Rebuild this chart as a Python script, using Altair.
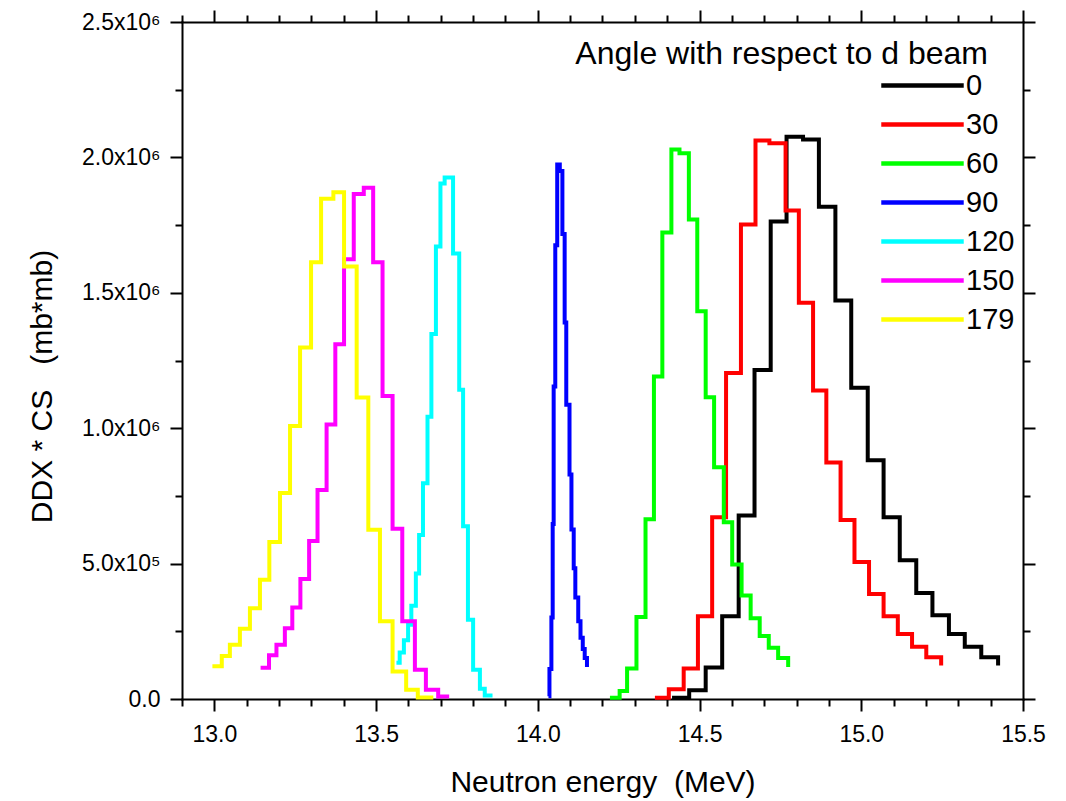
import altair as alt
import pandas as pd

FONT = "Liberation Sans"

angles = ["0", "30", "60", "90", "120", "150", "179"]
colors = ["#000000", "#ff0000", "#00ff00", "#0000ff", "#00ffff", "#ff00ff", "#ffff00"]

# bin edges (MeV) and step values (mb*mb)
E0 = [14.415, 14.468, 14.519, 14.570, 14.621, 14.670, 14.720, 14.769, 14.820, 14.869, 14.920,
      14.969, 15.020, 15.069, 15.119, 15.170, 15.220, 15.271, 15.320, 15.371, 15.423]
V0 = [5e3, 32e3, 116e3, 306e3, 678e3, 1215e3, 1763e3, 2076e3, 2066e3, 1818e3, 1472e3,
      1149e3, 882e3, 671e3, 512e3, 391e3, 309e3, 240e3, 193e3, 154e3, 124e3]

E30 = [14.362, 14.405, 14.451, 14.495, 14.539, 14.582, 14.628, 14.673, 14.716, 14.766, 14.807,
       14.851, 14.892, 14.936, 14.979, 15.024, 15.069, 15.113, 15.157, 15.201, 15.247]
V30 = [5e3, 36e3, 113e3, 306e3, 671e3, 1204e3, 1752e3, 2062e3, 2052e3, 1804e3, 1463e3,
       1139e3, 873e3, 661e3, 506e3, 388e3, 306e3, 240e3, 193e3, 154e3, 124e3]

E60 = [14.223, 14.253, 14.276, 14.305, 14.333, 14.359, 14.385, 14.413, 14.438, 14.467, 14.493,
       14.519, 14.545, 14.575, 14.601, 14.630, 14.658, 14.686, 14.714, 14.743, 14.774]
V60 = [5e3, 30e3, 113e3, 303e3, 664e3, 1191e3, 1723e3, 2029e3, 2015e3, 1771e3, 1432e3,
       1114e3, 856e3, 653e3, 497e3, 382e3, 298e3, 233e3, 189e3, 151e3, 118e3]

E90 = [14.033, 14.036, 14.042, 14.046, 14.049, 14.054, 14.060, 14.068, 14.076, 14.083,
       14.088, 14.098, 14.104, 14.111, 14.116, 14.125, 14.132, 14.139, 14.145, 14.152]
V90 = [10e3, 111e3, 301e3, 646e3, 1154e3, 1676e3, 1974e3, 1950e3, 1717e3, 1390e3,
       1087e3, 829e3, 626e3, 483e3, 375e3, 287e3, 226e3, 185e3, 151e3, 118e3]

E120 = [13.563, 13.573, 13.586, 13.599, 13.609, 13.623, 13.633, 13.645, 13.659, 13.671, 13.685,
        13.699, 13.712, 13.738, 13.757, 13.769, 13.784, 13.800, 13.821, 13.836, 13.860]
V120 = [134e3, 172e3, 217e3, 274e3, 344e3, 463e3, 606e3, 797e3, 1042e3, 1348e3, 1671e3,
        1904e3, 1926e3, 1645e3, 1142e3, 638e3, 293e3, 108e3, 38e3, 13e3, 13e3]

E150 = [13.143, 13.169, 13.192, 13.218, 13.241, 13.266, 13.293, 13.319, 13.347, 13.374, 13.401,
        13.431, 13.462, 13.491, 13.520, 13.551, 13.581, 13.620, 13.654, 13.692, 13.726]
V150 = [115e3, 162e3, 200e3, 261e3, 338e3, 443e3, 583e3, 772e3, 1014e3, 1310e3, 1624e3,
        1865e3, 1888e3, 1613e3, 1119e3, 629e3, 287e3, 108e3, 34e3, 9e3, 9e3]

E179 = [12.994, 13.023, 13.048, 13.079, 13.110, 13.141, 13.170, 13.203, 13.234, 13.265, 13.299,
        13.330, 13.368, 13.401, 13.440, 13.476, 13.512, 13.551, 13.593, 13.629, 13.677]
V179 = [121e3, 159e3, 200e3, 259e3, 335e3, 440e3, 580e3, 761e3, 1008e3, 1298e3, 1613e3,
        1847e3, 1871e3, 1597e3, 1113e3, 625e3, 287e3, 102e3, 34e3, 6e3, 6e3]

x_ticks = [round(12.9 + 0.1 * i, 1) for i in range(27)]
y_ticks = [250000 * i for i in range(11)]

legend_title = "Angle with respect to d beam"
x_title = "Neutron energy \u00a0(MeV)"
y_title = "DDX * CS \u00a0\u00a0(mb*mb)"

rows = []
for a, E, V in zip(angles, [E0, E30, E60, E90, E120, E150, E179],
                   [V0, V30, V60, V90, V120, V150, V179]):
    for e, v in zip(E, V):
        rows.append({"angle": a, "E": e, "v": v})
df = pd.DataFrame(rows)

xmaj = "abs(datum.value*2 - round(datum.value*2)) < 0.01"
ymaj = "abs(datum.value/500000 - round(datum.value/500000)) < 0.001"
x_tick_size = {"condition": {"test": xmaj, "value": 12}, "value": 7}
y_tick_size = {"condition": {"test": ymaj, "value": 12}, "value": 7}

xscale = alt.Scale(domain=[12.9, 15.5], nice=False, zero=False)
yscale = alt.Scale(domain=[0, 2500000], nice=False)

common = dict(grid=False, domainColor="black", domainWidth=2, domainCap="square",
              tickColor="black", tickWidth=2, labelOverlap=False, labelFlush=False)

x_bottom = alt.Axis(orient="bottom", values=x_ticks, tickSize=x_tick_size,
                    labelExpr=f"{xmaj} ? format(datum.value, '.1f') : ''",
                    labelFont=FONT, labelFontSize=23, labelColor="black",
                    labelBaseline="alphabetic", labelPadding=30,
                    title=x_title, titleFont=FONT, titleFontSize=30, titleFontWeight="normal",
                    titleColor="black", titleBaseline="alphabetic", titleY=92, **common)
y_left = alt.Axis(orient="left", values=y_ticks, tickSize=y_tick_size,
                  labelExpr=(f"!({ymaj}) ? '' : (datum.value == 0 ? '0.0' : (datum.value < 1000000 ? "
                             "format(datum.value/100000, '.1f') + 'x10\u2075' : "
                             "format(datum.value/1000000, '.1f') + 'x10\u2076'))"),
                  labelFont=FONT, labelFontSize=23, labelColor="black",
                  labelBaseline="middle", labelPadding=10,
                  title=y_title, titleFont=FONT, titleFontSize=30, titleFontWeight="normal",
                  titleColor="black", titleAngle=270, titleBaseline="bottom",
                  titleX=-125, titleY=364, **common)
x_top = alt.Axis(orient="top", values=x_ticks, tickSize=x_tick_size, labels=False, title=None, **common)
y_right = alt.Axis(orient="right", values=y_ticks, tickSize=y_tick_size, labels=False, title=None, **common)

lines = alt.Chart(df).mark_line(interpolate="step-after", strokeWidth=4, strokeJoin="miter").encode(
    x=alt.X("E:Q", scale=xscale, axis=x_bottom),
    y=alt.Y("v:Q", scale=yscale, axis=y_left),
    color=alt.Color("angle:N", scale=alt.Scale(domain=angles, range=colors),
                    legend=alt.Legend(title=None, orient="none", legendX=697, legendY=49,
                                      symbolType="stroke", symbolSize=6800, symbolStrokeWidth=4.5,
                                      clipHeight=29,
                                      labelFont=FONT, labelFontSize=29, labelColor="black",
                                      labelOffset=0, rowPadding=9, padding=0)),
)

frame = alt.Chart(df).mark_line(strokeOpacity=0).encode(
    x=alt.X("E:Q", scale=xscale, axis=x_top),
    y=alt.Y("v:Q", scale=yscale, axis=y_right),
)

ttl = alt.Chart(pd.DataFrame({"t": [legend_title]})).mark_text(
    align="right", baseline="alphabetic", font=FONT, fontSize=32, color="black"
).encode(text="t:N", x=alt.value(806), y=alt.value(42))

chart = alt.layer(lines, frame, ttl).resolve_axis(x="independent", y="independent").properties(
    width=841, height=677,
    padding={"left": 182, "top": 22, "right": 43, "bottom": 102},
    autosize=alt.AutoSizeParams(type="none"),
    background="white",
).configure_view(strokeWidth=0)

chart.save("out.html", embed_options={"renderer": "svg", "actions": False})
